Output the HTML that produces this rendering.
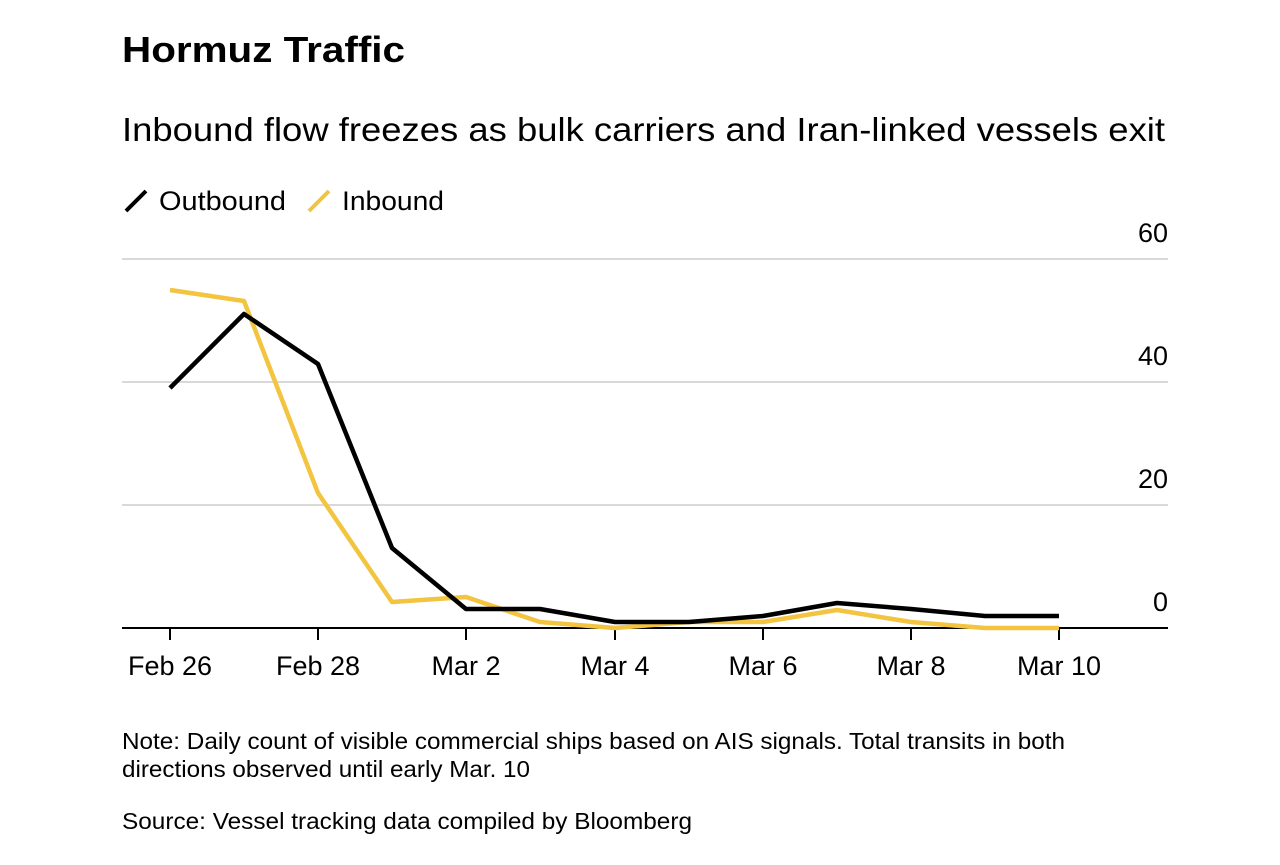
<!DOCTYPE html>
<html><head><meta charset="utf-8"><style>
body{margin:0;background:#fff;width:1280px;height:860px;overflow:hidden;font-family:"Liberation Sans",sans-serif;}
</style></head><body>
<svg width="1280" height="860" xmlns="http://www.w3.org/2000/svg" font-family="Liberation Sans, sans-serif">
<text x="122" y="62" font-size="36" font-weight="bold" fill="#000" textLength="283" lengthAdjust="spacingAndGlyphs">Hormuz Traffic</text>
<text x="122" y="141" font-size="33" fill="#000" textLength="1043" lengthAdjust="spacingAndGlyphs">Inbound flow freezes as bulk carriers and Iran-linked vessels exit</text>
<line x1="126" y1="211" x2="146" y2="191" stroke="#000" stroke-width="4"/>
<text x="159" y="210" font-size="27" fill="#000" textLength="127" lengthAdjust="spacingAndGlyphs">Outbound</text>
<line x1="309" y1="211" x2="329" y2="191" stroke="#f2c440" stroke-width="4"/>
<text x="342" y="210" font-size="27" fill="#000" textLength="102" lengthAdjust="spacingAndGlyphs">Inbound</text>
<g stroke="#d9d9d9" stroke-width="2">
<line x1="122" y1="259" x2="1168" y2="259"/>
<line x1="122" y1="382" x2="1168" y2="382"/>
<line x1="122" y1="505" x2="1168" y2="505"/>
</g>
<line x1="122" y1="628" x2="1168" y2="628" stroke="#000" stroke-width="2"/>
<g font-size="27" fill="#000" text-anchor="end">
<text x="1168" y="242">60</text>
<text x="1168" y="365">40</text>
<text x="1168" y="488">20</text>
<text x="1168" y="611">0</text>
</g>
<g stroke="#000" stroke-width="2">
<line x1="170" y1="628" x2="170" y2="640"/><line x1="318" y1="628" x2="318" y2="640"/>
<line x1="466" y1="628" x2="466" y2="640"/><line x1="615" y1="628" x2="615" y2="640"/>
<line x1="763" y1="628" x2="763" y2="640"/><line x1="911" y1="628" x2="911" y2="640"/>
<line x1="1059" y1="628" x2="1059" y2="640"/>
</g>
<g font-size="27" fill="#000" text-anchor="middle">
<text x="170" y="675">Feb 26</text><text x="318" y="675">Feb 28</text>
<text x="466" y="675">Mar 2</text><text x="615" y="675">Mar 4</text>
<text x="763" y="675">Mar 6</text><text x="911" y="675">Mar 8</text>
<text x="1059" y="675">Mar 10</text>
</g>
<polyline fill="none" stroke="#f2c440" stroke-width="4.5" stroke-linejoin="round" points="170,290 244,301 318,493 392,602 466,597 540,622 615,628 689,622 763,622 837,610 911,622 985,628 1059,628"/>
<polyline fill="none" stroke="#000" stroke-width="4.5" stroke-linejoin="round" points="170,388 244,314 318,364 392,548 466,609 540,609 615,622 689,622 763,616 837,603 911,609 985,616 1059,616"/>
<text x="122" y="749" font-size="23" fill="#000" textLength="943" lengthAdjust="spacingAndGlyphs">Note: Daily count of visible commercial ships based on AIS signals. Total transits in both</text>
<text x="122" y="777" font-size="23" fill="#000" textLength="408" lengthAdjust="spacingAndGlyphs">directions observed until early Mar. 10</text>
<text x="122" y="829" font-size="23" fill="#000" textLength="570" lengthAdjust="spacingAndGlyphs">Source: Vessel tracking data compiled by Bloomberg</text>
</svg>
</body></html>
